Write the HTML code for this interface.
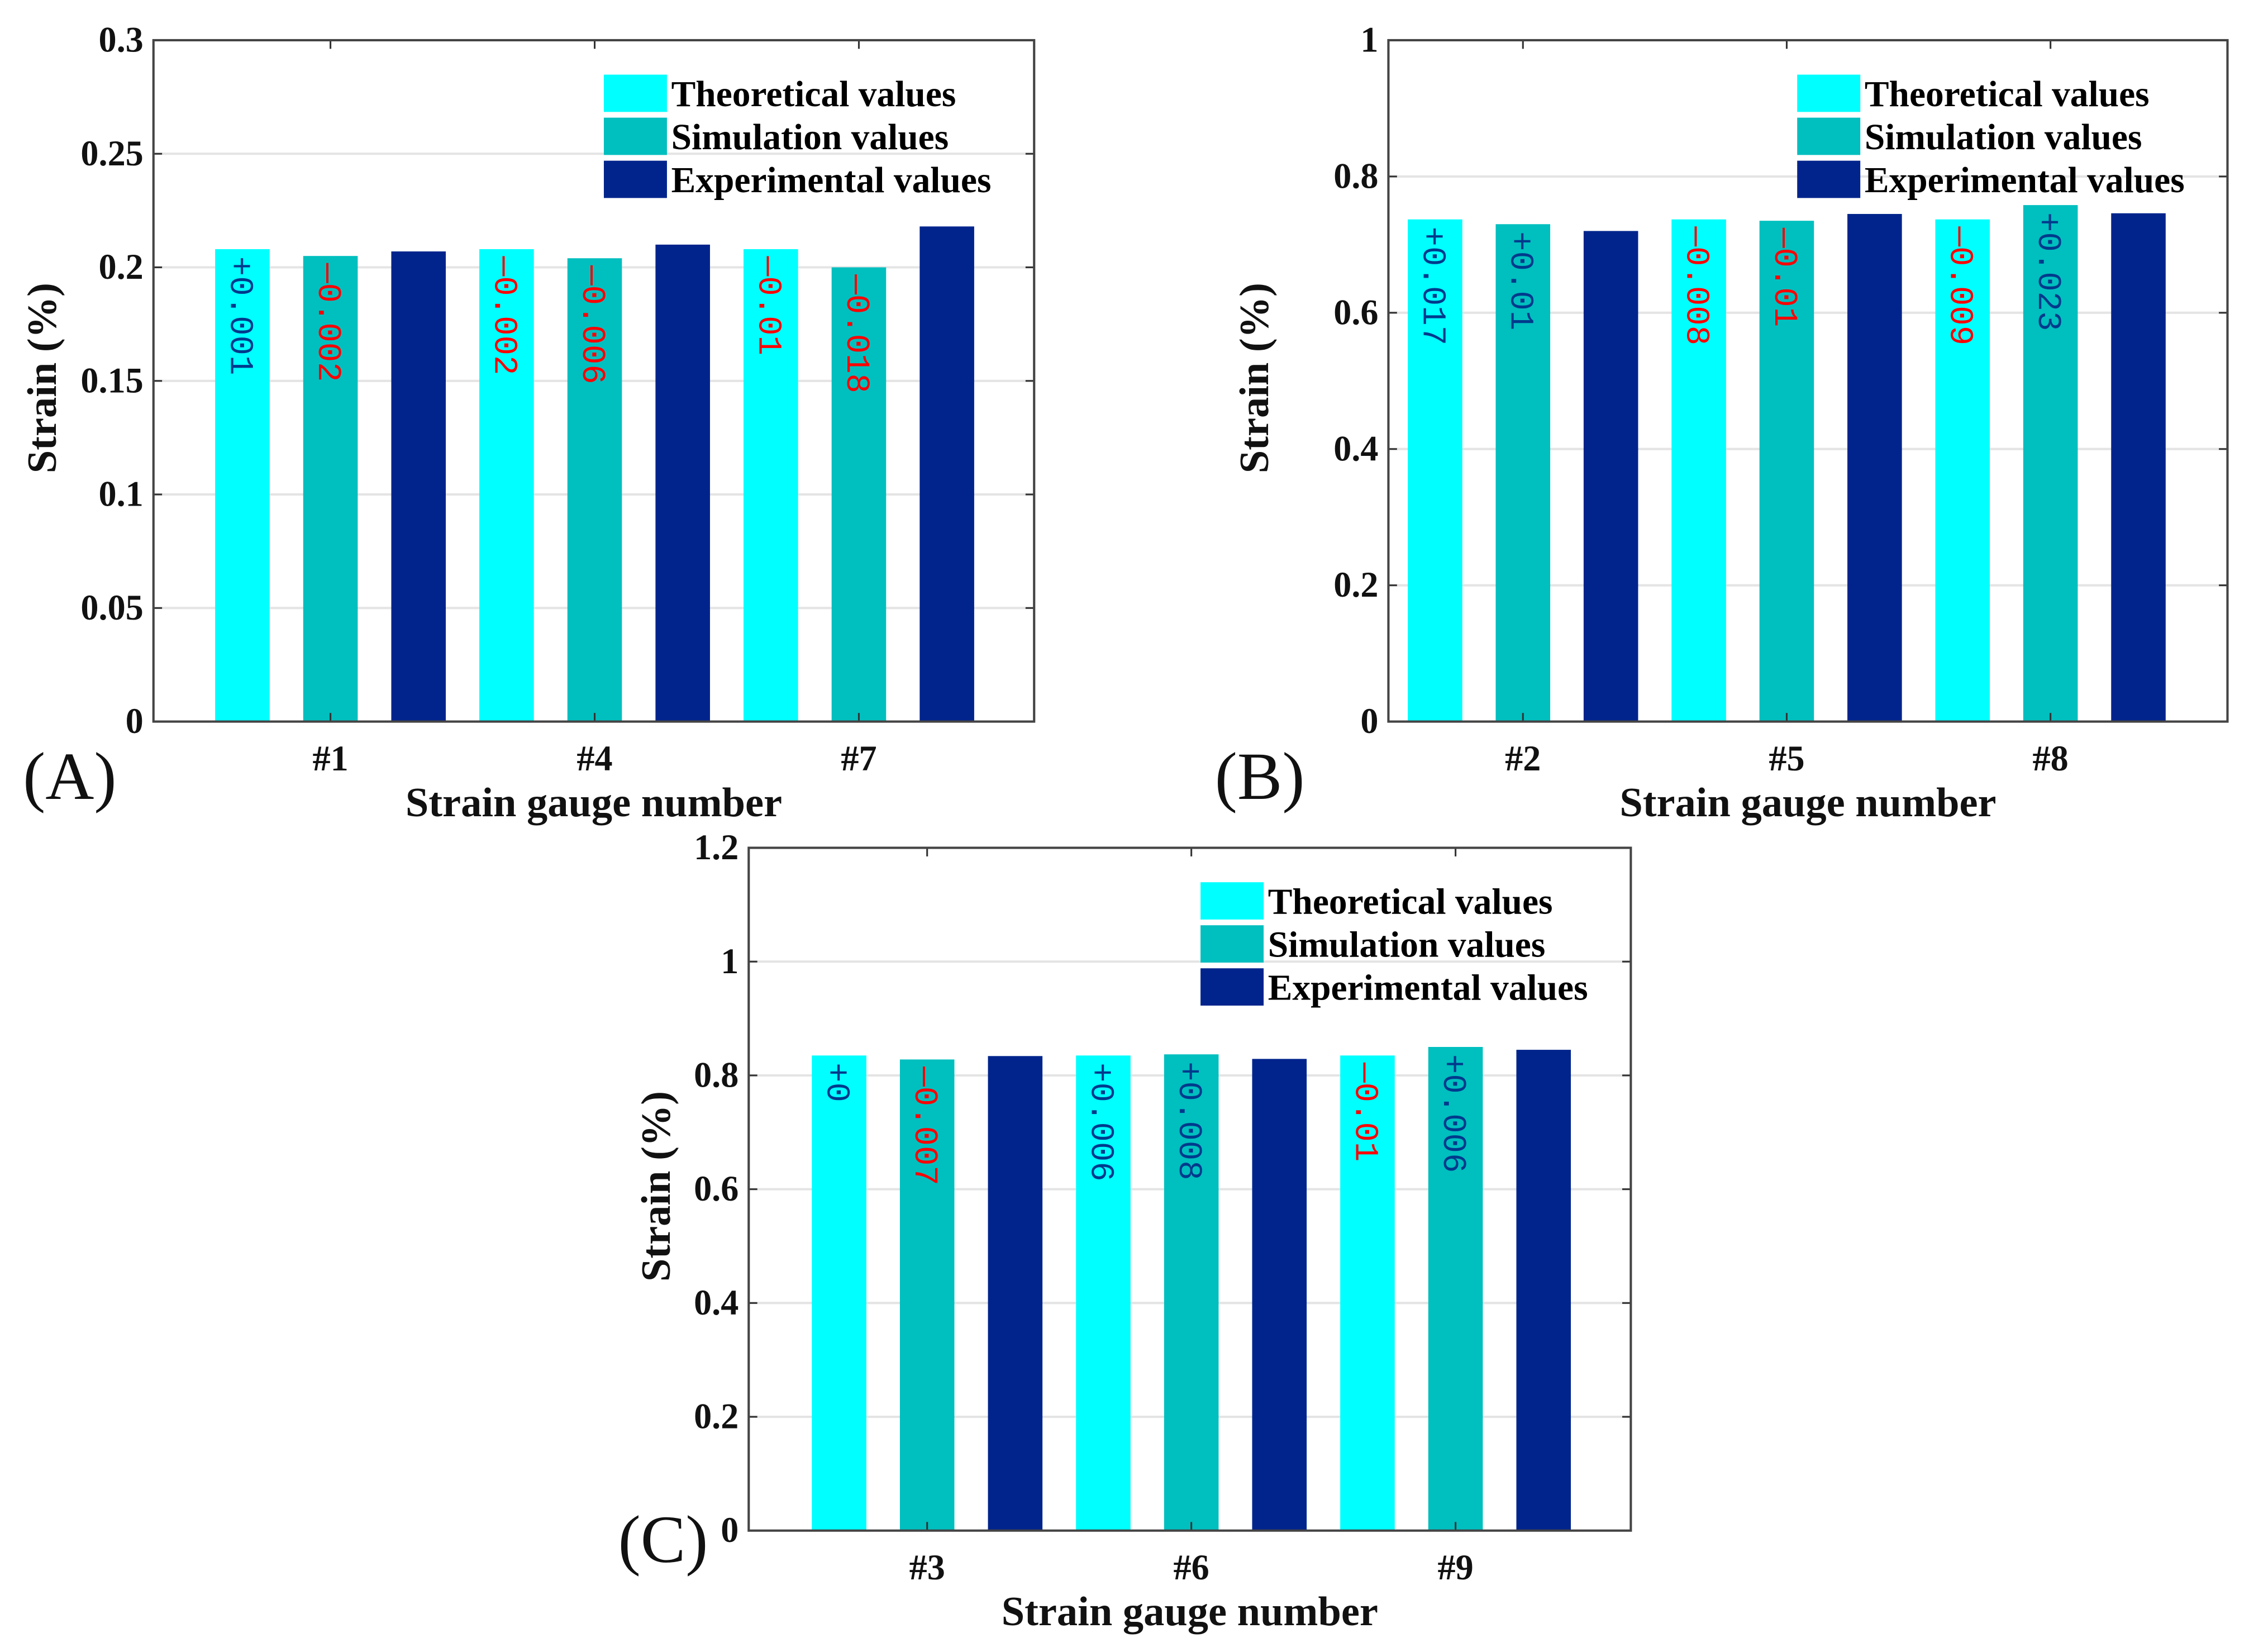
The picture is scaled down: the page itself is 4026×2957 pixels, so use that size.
<!DOCTYPE html>
<html><head><meta charset="utf-8"><style>
html,body{margin:0;padding:0;background:#fff;width:4026px;height:2957px;overflow:hidden}
svg{display:block}
.tk{font-family:"Liberation Serif",serif;font-weight:bold;font-size:25px;fill:#111}
.ttl{font-family:"Liberation Serif",serif;font-weight:bold;font-size:29px;fill:#111}
.lg{font-family:"Liberation Serif",serif;font-weight:bold;font-size:25.5px;fill:#000}
.pl{font-family:"Liberation Serif",serif;font-size:47px;fill:#111}
.bl{font-family:"Liberation Mono",monospace;font-size:23px}
</style></head><body>
<svg id="fig" width="4026" height="2957" viewBox="0 0 1568 1151.6" xmlns="http://www.w3.org/2000/svg"></svg>
<script>
// Panel A data
const catsA = ["#1","#4","#7"];
const theoA = [0.208,0.208,0.208];
const simA  = [0.205,0.204,0.200];
const expA  = [0.207,0.210,0.218];
const lblTA = ["+0.001","—0.002","—0.01"];
const lblSA = ["—0.002","—0.006","—0.018"];
const ticksA = [0,0.05,0.1,0.15,0.2,0.25,0.3];
const tickLblA = ["0","0.05","0.1","0.15","0.2","0.25","0.3"];
// Panel B data
const catsB = ["#2","#5","#8"];
const theoB = [0.737,0.737,0.737];
const simB  = [0.730,0.735,0.758];
const expB  = [0.720,0.745,0.746];
const lblTB = ["+0.017","—0.008","—0.009"];
const lblSB = ["+0.01","—0.01","+0.023"];
const ticksB = [0,0.2,0.4,0.6,0.8,1];
const tickLblB = ["0","0.2","0.4","0.6","0.8","1"];
// Panel C data
const catsC = ["#3","#6","#9"];
const theoC = [0.835,0.835,0.835];
const simC  = [0.828,0.837,0.850];
const expC  = [0.834,0.829,0.845];
const lblTC = ["+0","+0.006","—0.01"];
const lblSC = ["—0.007","+0.008","+0.006"];
const ticksC = [0,0.2,0.4,0.6,0.8,1,1.2];
const tickLblC = ["0","0.2","0.4","0.6","0.8","1","1.2"];

const NS="http://www.w3.org/2000/svg";
const fig=document.getElementById('fig');
function mk(tag,attrs,parent,text){const e=document.createElementNS(NS,tag);for(const k in attrs)e.setAttribute(k,attrs[k]);if(text!==undefined)e.textContent=text;(parent||fig).appendChild(e);return e;}
const COLORS=["#00ffff","#00bfbf","#00248c"];

function panel(id,box,firstBar,step,ymax,cats,theo,sim,exp,lT,lS,ticks,tickLbl,letter,letterPos,ytOff){
  const g=mk('g',{});
  
  
  const [L,T,R,B]=box;
  const y=v=>B-(v/ymax)*(B-T);
  const x=i=>firstBar+i*step;
  const bw=38;
  ticks.forEach((t,i)=>{
    const yy=y(t);
    if(t>0&&t<ymax){const gl=mk('line',{x1:L,x2:R,y1:yy,y2:yy,stroke:'#e4e4e4','stroke-width':1.6},g);
      }
    mk('line',{x1:L,x2:L+6,y1:yy,y2:yy,stroke:'#333','stroke-width':1.2},g);
    mk('line',{x1:R-6,x2:R,y1:yy,y2:yy,stroke:'#333','stroke-width':1.2},g);
    const tl=mk('text',{x:L-7,y:yy+8,'text-anchor':'end',class:'tk'},g,tickLbl[i]);
    
  });
  const series=[theo,sim,exp];
  cats.forEach((c,ci)=>{
    series.forEach((s,si)=>{
      const idx=ci*3+si;
      const r=mk('rect',{x:x(idx)-bw/2,y:y(s[ci]),width:bw,height:B-y(s[ci]),fill:COLORS[si]},g);
      
      
    });
    [[lT[ci],0],[lS[ci],1]].forEach(([txt,si])=>{
      const idx=ci*3+si;const xx=x(idx)-8, yy=y(series[si][ci])+5;
      const col=txt.startsWith('+')?'#003a8c':'#ff0000';
      const t=mk('text',{x:xx,y:yy,class:'bl',fill:col,transform:`rotate(90 ${xx} ${yy})`},g,txt);
      
    });
    const cx=x(ci*3+1);
    mk('line',{x1:cx,x2:cx,y1:B,y2:B-6,stroke:'#333','stroke-width':1.2},g);
    mk('line',{x1:cx,x2:cx,y1:T,y2:T+6,stroke:'#333','stroke-width':1.2},g);
    const xl=mk('text',{x:cx,y:B+34,'text-anchor':'middle',class:'tk'},g,c);
    
  });
  const fr=mk('rect',{x:L,y:T,width:R-L,height:B-T,fill:'none',stroke:'#444','stroke-width':1.6},g);
  
  const lx=R-300, names=["Theoretical values","Simulation values","Experimental values"];
  const lg=mk('g',{},g);
  names.forEach((n,i)=>{
    const ly=T+37+i*30;
    const sw=mk('rect',{x:lx,y:ly-13,width:44,height:26,fill:COLORS[i]},lg);
    
    const lt=mk('text',{x:lx+47,y:ly+9,class:'lg'},lg,n);
    
  });
  const yx=L-ytOff, ym=(T+B)/2-2;
  const yt=mk('text',{x:yx,y:ym,'text-anchor':'middle',class:'ttl',transform:`rotate(-90 ${yx} ${ym})`},g,'Strain (%)');
  
  const xt=mk('text',{x:(L+R)/2,y:B+66,'text-anchor':'middle',class:'ttl'},g,'Strain gauge number');
  
  const pl=mk('text',{x:letterPos[0],y:letterPos[1],class:'pl'},g,letter);
  
}
panel('a',[107,28,721,503],169,61.4,0.3,catsA,theoA,simA,expA,lblTA,lblSA,ticksA,tickLblA,'(A)',[16,557],68);
panel('b',[968,28,1553,503],1000.5,61.3,1,catsB,theoB,simB,expB,lblTB,lblSB,ticksB,tickLblB,'(B)',[847,557],84);
panel('c',[522,591,1137,1067],585,61.4,1.2,catsC,theoC,simC,expC,lblTC,lblSC,ticksC,tickLblC,'(C)',[431,1089],55);
</script>
</body></html>
